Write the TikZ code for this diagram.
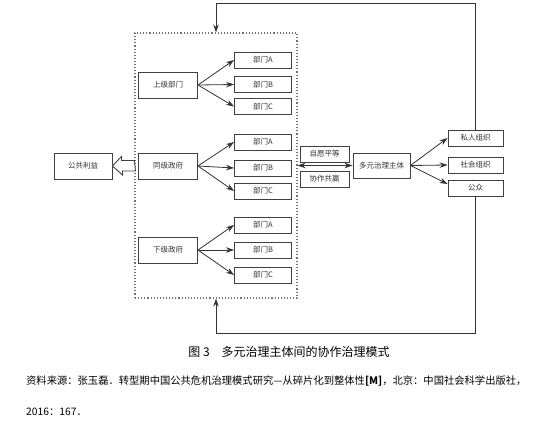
\documentclass[tikz,border=0pt]{standalone}
\usepackage{fontspec}
\setmainfont{Noto Sans CJK SC}
\usetikzlibrary{arrows.meta}

\begin{document}
\begin{tikzpicture}[x = 1pt, y = -1pt, font = \fontsize{7.5}{9}\selectfont,
    box/.style = {draw = black!75, line width = 0.9pt, rectangle, inner sep = 0pt, text = black!80},
    gov/.style = {box, minimum width = 59pt, minimum height = 26pt},
    dept/.style = {box, minimum width = 57pt, minimum height = 16pt},
    link/.style = {-{Stealth[length = 8pt, width = 5.5pt]}, draw = black!80, line width = 0.8pt}]
      \useasboundingbox (0, 0) rectangle (542, 426);

      % government levels and their departments
      \node (gov_frame) [draw = black!55, dotted, line width = 1.1pt, minimum width = 162pt, minimum height = 265pt] at (216, 165.5) {};

      \node (upper_gov) [gov] at (168, 85) {上级部门};
      \node (upper_a) [dept] at (263, 60) {部门A};
      \node (upper_b) [dept] at (263, 84.5) {部门B};
      \node (upper_c) [dept] at (263, 106.5) {部门C};

      \node (same_gov) [gov] at (168, 166) {同级政府};
      \node (same_a) [dept] at (263, 142) {部门A};
      \node (same_b) [dept] at (263, 168) {部门B};
      \node (same_c) [dept] at (263, 191) {部门C};

      \node (lower_gov) [gov] at (168, 250) {下级政府};
      \node (lower_a) [dept] at (263, 225) {部门A};
      \node (lower_b) [dept] at (263, 250) {部门B};
      \node (lower_c) [dept] at (263, 275) {部门C};

      \foreach \level in {upper, same, lower}
        \foreach \dept in {a, b, c}
          \draw [link] (\level_gov.east) -- (\level_\dept.west);

      % public interest
      \node (public_interest) [box, minimum width = 58pt, minimum height = 26pt] at (83, 166) {公共利益};
      \draw [draw = black!75, line width = 0.9pt, fill = white] (gov_frame.west) ++(0, -5) -- ++(-13, 0) -- ++(0, -4) -- (public_interest.east) -- ++(10, 9) -- ++(0, -4) -- ++(13, 0) -- cycle;

      % multiple governance subjects
      \node (equal_box) [box, minimum width = 49pt, minimum height = 16pt] at (324.5, 154) {自愿平等};
      \node (win_box) [box, minimum width = 49pt, minimum height = 16pt] at (324.5, 179) {协作共赢};
      \node (multi_subject) [box, minimum width = 57pt, minimum height = 25pt] at (381.5, 165.5) {多元治理主体};
      \draw [link, {Stealth[length = 8pt, width = 5.5pt]}-{Stealth[length = 8pt, width = 5.5pt]}] (gov_frame.east |- multi_subject.west) -- (multi_subject.west);

      \node (private_org) [dept, minimum width = 55pt] at (475.5, 138) {私人组织};
      \node (social_org) [dept, minimum width = 55pt] at (475.5, 165) {社会组织};
      \node (public_mass) [dept, minimum width = 55pt] at (475.5, 188) {公众};

      \draw [link] (multi_subject.east) -- (private_org.west);
      \draw [link] (multi_subject.east) -- (social_org.west);
      \draw [link] (multi_subject.east) -- ([yshift = 4pt] public_mass.west);

      % feedback
      \draw [link] (private_org.north) -- ++(0, -126) -| (gov_frame.north);
      \draw [link] (public_mass.south) -- ++(0, 137) -| (gov_frame.south);

      % caption and source
      \node (caption) at (289, 352) {\fontsize{12}{14}\selectfont 图 3\quad 多元治理主体间的协作治理模式};
      \node (source) [anchor = west, inner sep = 0pt] at (26, 381) {\fontsize{10.3}{12}\selectfont 资料来源：张玉磊．转型期中国公共危机治理模式研究—从碎片化到整体性\textbf{[M]}，北京：中国社会科学出版社，};
      \node (source_year) [anchor = west, inner sep = 0pt] at (26, 412) {\fontsize{10.3}{12}\selectfont 2016：167．};
    \end{tikzpicture}
\end{document}
